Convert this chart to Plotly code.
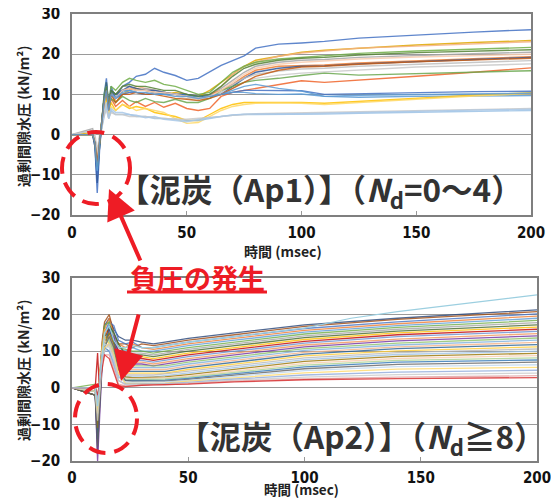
import plotly.graph_objects as go

# page body has an 8px margin; the figure is sized to fit the 559x499 window
OFF = 8
W, H = 559 - OFF, 499 - OFF

# ---------------- data: upper panel (Ap1, Nd=0~4) ----------------
t_top = [0, 9, 10, 11, 12, 13, 14, 15, 16, 17, 19, 22, 25, 28, 32, 36, 40, 45, 50, 55,
         60, 65, 70, 75, 80, 90, 100, 110, 125, 150, 175, 200]

top_series = [
    [0, 0, -3, -14.5, -4, 3, 10, 14, 6, 12, 9, 12, 13, 14.5, 15, 16.5, 15.5, 14.7, 13.5, 14, 15.5, 17.2, 18.4, 19.6, 21.5, 22.5, 22.8, 23.2, 24, 24.8, 25.5, 26.1],
    [0, 0.5, -2, -8, -2, 4, 9, 12, 7, 11, 8, 10, 11, 11.5, 11, 10.5, 10, 10.5, 10, 9.5, 11, 13, 15, 17, 18.5, 19.5, 20.5, 21, 21.5, 22.3, 22.9, 23.4],
    [0, 0, -1, -6, -1, 3, 8, 11, 6, 10, 9, 11, 11, 12, 11.5, 11, 10.5, 10, 9.5, 9, 9.5, 12, 15, 17, 18, 19.5, 20.3, 20.8, 21.5, 22, 22.6, 23.1],
    [0, 0, -2, -9, -3, 4, 10, 13, 8, 12, 11, 13, 14, 13.5, 13, 13.5, 12.5, 12, 11, 10, 10.5, 13, 15.5, 17, 18, 18.8, 19.2, 19.5, 20.2, 20.8, 21.3, 21.7],
    [0, 1.5, -1, -7, -2, 2, 8, 12, 7, 11, 10, 12, 12, 11, 11.5, 11, 10.5, 10, 9.5, 9, 10, 11.5, 13.5, 15.5, 17, 18, 18.5, 18.7, 19.2, 19.7, 20.1, 20.5],
    [0, 0, -2, -8, -2, 3, 9, 12, 6, 10, 9, 11, 11.5, 11, 11, 10.5, 10, 10, 9.5, 9.5, 10, 11, 12.5, 14.5, 16, 17, 17.2, 17.3, 17.8, 18.4, 18.9, 19.4],
    [0, 0, -3, -12, -3, 3, 9, 13, 7, 11, 10, 11, 12, 11.5, 11, 11, 10.5, 10, 10, 9.5, 9.5, 10, 12, 14, 15.5, 16.5, 17, 17.1, 17.6, 18.2, 18.7, 19.2],
    [0, 1, -1, -6, -1, 3, 8, 11, 7, 10, 9, 10, 10.5, 11, 11, 10.5, 10, 10, 9.5, 9, 9, 10.5, 12.5, 14, 15, 15.8, 16.3, 16.5, 17, 17.5, 18, 18.4],
    [0, 0, -1, -5, -1, 2, 7, 10, 6, 9, 8, 10, 10, 10, 10.5, 10, 10, 9.5, 9, 9, 9, 10, 11.5, 13, 14, 14.8, 15.3, 15.6, 16.2, 16.8, 17.2, 17.6],
    [0, 0, -2, -7, -2, 3, 8, 11, 6, 9, 7, 8.5, 7, 8.2, 7, 8, 6.8, 7.8, 6.5, 6, 6.5, 9.5, 10.5, 11, 11.5, 12.5, 13.4, 13, 13.5, 14.5, 15.5, 16.6],
    [0, 0, -2, -8, -2, 3, 8, 10, 6, 9, 8, 9.5, 8.5, 8, 9, 8.2, 8, 8.8, 8, 8, 9, 11, 12, 13, 13.5, 14, 14.7, 15.3, 14.8, 15.2, 15.6, 15.9],
    [0, 0, -2, -10, -3, 3, 9, 12, 7, 11, 9, 10, 10.5, 10.5, 10, 10, 10, 10, 10, 9.5, 9.5, 10, 10.5, 11, 11, 11, 10.9, 10, 10.2, 10.5, 10.7, 10.8],
    [0, 0, -2, -9, -2, 3, 9, 12, 6, 10, 9, 11, 11, 10.5, 10, 10.5, 10, 10, 9.5, 9.5, 10, 10, 10.5, 10.5, 10.2, 10, 10.1, 9.5, 9.3, 9.5, 9.6, 9.7],
    [0, 0, -1, -7, -2, 2, 7, 9, 5, 8, 6, 7.5, 6.5, 7, 6.5, 5.5, 5, 4.5, 3.5, 3.5, 5, 6.5, 7.5, 8, 8, 8, 8, 7.8, 8.3, 9, 9.8, 10.4],
    [0, 0, -1, -5, -1, 2, 6, 8, 5, 7, 6, 7.5, 7, 6, 6.5, 6, 5.5, 4, 2.8, 3, 4.5, 6, 7, 7.5, 7.8, 7.9, 7.8, 7.5, 8, 8.8, 9.6, 10.2],
    [0, 0, -1, -5, -1, 2, 5, 7, 4, 6, 5, 5, 5, 4.5, 4.5, 4, 4, 3.8, 3.5, 3.5, 4, 4.5, 4.8, 5, 5, 5, 5.1, 5.1, 5.3, 5.5, 5.8, 6.0],
    [0, 1, 0, -4, 0, 2, 5, 6, 4, 5.5, 5, 5, 4.5, 4.5, 4.5, 4.2, 4, 3.8, 3.8, 4, 4.2, 4.5, 4.8, 5, 5.2, 5.3, 5.4, 5.6, 5.8, 6, 6.2, 6.5],
    [0, 0, -1, -6, -1, 2, 6, 8, 4, 6.5, 5.5, 5.5, 5, 4.8, 4.2, 4.5, 3.8, 3.5, 3.2, 3.8, 4.2, 4.6, 4.9, 5.1, 5.1, 5.2, 5.2, 5.3, 5.5, 5.8, 6.1, 6.3],
    [0, 0, -1, -6, -1, 3, 8, 11, 7, 10, 9, 11, 11.5, 11, 11, 10.5, 10.5, 10, 9.5, 9, 9.5, 11, 13, 15, 16.5, 17.5, 18, 18.3, 18.8, 19.3, 19.7, 20.0],
    [0, 0, -2, -8, -2, 3, 9, 12, 7, 11, 10, 12, 12.5, 12, 12, 11.5, 11, 11, 10, 9.5, 10, 12, 14.5, 16.5, 17.5, 18.5, 19, 19.2, 19.8, 20.4, 20.8, 21.1],
    [0, 0, -2, -7, -2, 3, 8, 11, 6, 10, 8, 10, 10, 10.5, 10, 10, 9.5, 9, 8.8, 8.5, 9, 10, 11.5, 13, 14.5, 16, 16.8, 17, 17.5, 18.1, 18.6, 19.0],
    [0, 0, -2, -9, -2, 3, 8, 11, 6, 10, 9, 10.5, 11, 10.5, 10.5, 10, 10, 9.5, 9.5, 9, 9.5, 10, 11, 12, 12.5, 11.5, 10.8, 9.5, 9.8, 10, 10.2, 10.3],
]
top_colors = ['#4472C4', '#E0A800', '#F4B183', '#70AD47', '#A5A5A5', '#ED7D31', '#2F5597', '#BFBFBF',
              '#C9C9C9', '#F0642A', '#6AA84F', '#4472C4', '#5B9BD5', '#FFC000', '#FFD966', '#9DC3E6',
              '#C9C9C9', '#A9C8E8', '#F8CBAD', '#548235', '#C55A11', '#5B9BD5']

# ---------------- data: lower panel (Ap2, Nd>=8) ----------------
t_bot = [0, 10, 11, 12, 13, 14, 16, 18, 20, 23, 26, 30, 35, 40, 50, 70, 100, 140, 200]

bot_series = [
    [0, -1, -8, 2, 12, 17, 19, 16, 14, 13, 13, 12.5, 12, 12.5, 13.5, 15, 17.2, 19, 21.3],
    [0, 0, -5, 3, 13, 18, 20, 15, 12, 12, 11, 12, 11.5, 12, 13, 14.5, 16.8, 18.7, 20.8],
    [0, -2, -12, 1, 10, 15, 18, 17, 13, 12, 12.5, 11, 11, 11.5, 12.5, 14, 16.2, 18, 20.2],
    [0, 0, -6, 2, 11, 16, 19, 14, 12, 11, 12, 11, 10.5, 11, 12, 13.5, 15.7, 17.5, 19.6],
    [0, -1, -15, 0, 9, 14, 17, 15, 11, 10, 11, 10, 10, 10.5, 11.5, 13, 15.2, 17, 19.0],
    [0, 1, -4, 3, 12, 17, 18, 13, 11, 10.5, 10, 10, 9.5, 10, 11, 12.5, 14.7, 16.5, 18.4],
    [0, 0, -9, 1, 10, 15, 16, 14, 10, 10, 9.5, 9.5, 9, 9.5, 10.5, 12, 14.2, 16, 17.8],
    [0, -2, -18, -2, 8, 13, 17, 15, 12, 9, 9, 9, 8.5, 9, 10, 11.5, 13.7, 15.5, 17.2],
    [0, 0, -5, 2, 11, 16, 15, 12, 9, 8.5, 8.5, 8.5, 8, 8.5, 9.5, 11, 13.2, 15, 16.6],
    [0, 0, 9.5, -3, 9, 14, 16, 13, 10, 8, 8, 8, 7.5, 8, 9, 10.5, 12.7, 14.5, 16.0],
    [0, -1, -10, 0, 10, 15, 17, 12, 8, 7.5, 7.5, 7.5, 7, 7.5, 8.5, 10, 12.2, 14, 15.4],
    [0, 0, -6, 2, 12, 16, 14, 11, 8, 7, 7, 7, 6.5, 7, 8, 9.5, 11.7, 13.3, 14.8],
    [0, -2, -20, -5, 7, 12, 15, 14, 9, 6.5, 6.5, 6.5, 6, 6.5, 7.5, 9, 11.2, 12.8, 14.2],
    [0, 0, -4, 3, 11, 15, 13, 10, 7, 6, 6, 6, 6, 6, 7, 8.5, 10.7, 12.2, 13.6],
    [0, -1, -8, 1, 9, 13, 15, 12, 8, 5.5, 5.5, 5.5, 5.5, 5.5, 6.5, 8, 10.2, 11.7, 13.0],
    [0, 0, -5, 2, 10, 14, 14, 10, 6, 5, 5, 5, 5, 5, 6, 7.5, 9.7, 11.2, 12.4],
    [0, -2, -14, -1, 8, 12, 16, 13, 7, 4.5, 4.5, 4.5, 4.5, 4.5, 5.5, 7, 9.2, 10.7, 11.8],
    [0, 0, -3, 3, 11, 14, 12, 9, 6, 4, 4, 4, 4, 4, 5, 6.5, 8.7, 10.1, 11.2],
    [0, -1, -7, 1, 9, 13, 14, 11, 6, 3.5, 3.5, 3.5, 3.5, 3.8, 4.5, 6, 8.2, 9.6, 10.6],
    [0, 0, -5, 2, 10, 13, 13, 9, 5, 3, 3, 3, 3, 3.3, 4, 5.5, 7.7, 9.1, 10.0],
    [0, -2, -11, 0, 8, 12, 15, 12, 6, 3, 2.8, 2.8, 2.8, 3, 3.6, 5, 7.2, 8.6, 9.4],
    [0, 0, -4, 3, 10, 13, 11, 8, 4, 2.5, 2.5, 2.5, 2.5, 2.7, 3.2, 4.6, 6.7, 8, 8.8],
    [0, -1, -6, 1, 9, 12, 13, 10, 5, 2.2, 2.2, 2.2, 2.2, 2.4, 2.9, 4.2, 6.2, 7.5, 8.2],
    [0, 0, -3, 2, 9, 11, 10, 7, 3, 2, 2, 2, 2, 2.1, 2.6, 3.8, 5.7, 7, 7.6],
    [0, -2, -16, -3, 7, 11, 14, 11, 5, 2, 1.8, 1.8, 1.8, 1.8, 2.3, 3.4, 5.2, 6.4, 7.0],
    [0, 0, -4, 2, 9, 12, 11, 7, 3, 1.5, 1.5, 1.5, 1.5, 1.6, 2, 3, 4.7, 5.8, 6.3],
    [0, -1, -7, 1, 8, 11, 12, 9, 4, 1.2, 1.2, 1.3, 1.3, 1.3, 1.8, 2.7, 4.1, 5.1, 5.6],
    [0, 0, -3, 2, 8, 10, 10, 6, 2, 1, 1, 1, 1, 1.1, 1.5, 2.4, 3.5, 4.3, 4.8],
    [0, -1, -9, 0, 7, 10, 12, 8, 2, 0.8, 0.8, 0.9, 0.9, 1, 1.3, 2.1, 2.9, 3.6, 4.0],
    [0, 0, -4, 2, 7, 9, 9, 5, 1, 0.5, 0.6, 0.7, 0.8, 0.8, 1.1, 1.8, 2.4, 2.9, 3.3],
    [0, 0, -2, 2, 6, 9, 8, 4, 0.5, 0.3, 0.5, 0.7, 0.8, 0.8, 1, 1.6, 2.2, 2.5, 2.8],
]
bot_colors = ['#264478', '#9E480E', '#4472C4', '#ED7D31', '#5B9BD5', '#70AD47', '#A5A5A5', '#43682B',
              '#FFC000', '#C00000', '#698ED0', '#F1975A', '#7030A0', '#8CC168', '#7CAFDD', '#F4B183',
              '#255E91', '#FFCD33', '#B7B7B7', '#9DC3E6', '#997300', '#F8CBAD', '#A9D18E', '#2E75B6',
              '#636363', '#BDD7EE', '#FFD966', '#8FAADC', '#C9C9C9', '#E2A0A0', '#D62728']

outlier_t = [0, 10, 11, 12, 13, 14, 16, 18, 20, 23, 26, 30, 35, 40, 50, 70, 100, 120, 140, 200]
outlier_v = [0, 0, -5, 2, 10, 15, 17, 13, 11, 11, 11.5, 11, 11, 11.5, 12.5, 14, 16.3, 19, 20.8, 25.4]

y_ticks = [-20, -10, 0, 10, 20, 30]
x_ticks = [0, 50, 100, 150, 200]

# ---------------- figure ----------------
fig = go.Figure()

for ys, c in zip(top_series, top_colors):
    fig.add_trace(go.Scatter(x=t_top[:len(ys)], y=ys, mode='lines', xaxis='x', yaxis='y',
                             line=dict(color=c, width=1.4), opacity=0.85,
                             hoverinfo='skip', showlegend=False))
for ys, c in zip(bot_series, bot_colors):
    fig.add_trace(go.Scatter(x=t_bot[:len(ys)], y=ys, mode='lines', xaxis='x2', yaxis='y2',
                             line=dict(color=c, width=1.3), opacity=0.8,
                             hoverinfo='skip', showlegend=False))
fig.add_trace(go.Scatter(x=outlier_t, y=outlier_v, mode='lines', xaxis='x2', yaxis='y2',
                         line=dict(color='#9CCFE0', width=1.2), hoverinfo='skip', showlegend=False))


def px_x(p):
    return (p - OFF) / W


def px_y(p):
    return 1 - (p - OFF) / H


tickfont = dict(family='Liberation Sans Narrow, DejaVu Sans Condensed, Arial Narrow, sans-serif',
                size=15, color='#111111', weight='bold')

axis_common = dict(showline=True, mirror=True, linecolor='#7F7F7F', linewidth=1.6,
                   zeroline=False, tickfont=tickfont, automargin=False,
                   ticklabeloverflow='allow')

fig.update_layout(
    width=W, height=H,
    margin=dict(l=0, r=0, t=0, b=0, autoexpand=False),
    paper_bgcolor='white', plot_bgcolor='white',
    xaxis=dict(domain=[px_x(72), px_x(531)], range=[0, 200], tickvals=x_ticks,
               showgrid=False, ticks='inside', ticklen=4, tickcolor='#999999',
               ticklabelstandoff=3, anchor='y', **axis_common),
    yaxis=dict(domain=[px_y(215), px_y(14)], range=[-20, 30], tickvals=y_ticks,
               showgrid=True, gridcolor='#9A9A9A', gridwidth=1.2, ticks='',
               ticklabelstandoff=7, anchor='x', **axis_common),
    xaxis2=dict(domain=[px_x(72), px_x(537)], range=[0, 200], tickvals=x_ticks,
                showgrid=False, ticks='inside', ticklen=4, tickcolor='#999999',
                ticklabelstandoff=2, anchor='y2', **axis_common),
    yaxis2=dict(domain=[px_y(461), px_y(278)], range=[-20, 30], tickvals=y_ticks,
                showgrid=True, gridcolor='#9A9A9A', gridwidth=1.2, ticks='',
                ticklabelstandoff=7, anchor='x2', **axis_common),
)

jp = 'Noto Sans CJK JP, Noto Sans CJK SC, sans-serif'
title_font = dict(family=jp, size=14, color='#222222', weight='bold')

annotations = [
    dict(x=px_x(23), y=px_y(116), text='過剰間隙水圧 (kN/m²)', textangle=-90, font=title_font),
    dict(x=px_x(23), y=px_y(370), text='過剰間隙水圧 (kN/m²)', textangle=-90, font=title_font),
    dict(x=px_x(283), y=px_y(251), text='時間 (msec)', font=title_font),
    dict(x=px_x(301), y=px_y(489), text='時間 (msec)', font=dict(family=jp, size=13.5, color='#222222', weight='bold')),
    dict(x=px_x(320), y=px_y(190), text='<b>【泥炭（Ap1）】（<i>N</i><sub>d</sub>=0～4）</b>',
         font=dict(family=jp, size=31.5, color='#333333')),
    dict(x=px_x(361), y=px_y(437), text='<b>【泥炭（Ap2）】（<i>N</i><sub>d</sub>≧8）</b>',
         font=dict(family=jp, size=31.5, color='#333333')),
    dict(x=px_x(197), y=px_y(277), text='<b>負圧の発生</b>',
         font=dict(family=jp, size=27, color='#EE1C25')),
    # arrows
    dict(x=px_x(109), y=px_y(189), ax=32, ay=73, text='', showarrow=True,
         arrowhead=2, arrowsize=1.5, arrowwidth=4, arrowcolor='#EE1C25'),
    dict(x=px_x(121), y=px_y(381), ax=18, ay=-68, text='', showarrow=True,
         arrowhead=2, arrowsize=1.5, arrowwidth=4, arrowcolor='#EE1C25'),
]
for a in annotations:
    a.setdefault('xref', 'paper')
    a.setdefault('yref', 'paper')
    a.setdefault('showarrow', False)
    a.setdefault('xanchor', 'center')
    a.setdefault('yanchor', 'middle')
fig.update_layout(annotations=annotations)

shapes = [
    dict(type='circle', xref='paper', yref='paper',
         x0=px_x(62), x1=px_x(130), y0=px_y(204), y1=px_y(132),
         line=dict(color='#EE1C25', width=4, dash='17px,9px')),
    dict(type='circle', xref='paper', yref='paper',
         x0=px_x(75), x1=px_x(137), y0=px_y(453), y1=px_y(384),
         line=dict(color='#EE1C25', width=4, dash='17px,9px')),
    dict(type='line', xref='paper', yref='paper',
         x0=px_x(127), x1=px_x(267), y0=px_y(292), y1=px_y(292),
         line=dict(color='#EE1C25', width=3)),
]
fig.update_layout(shapes=shapes)

fig.write_html('out.html')
